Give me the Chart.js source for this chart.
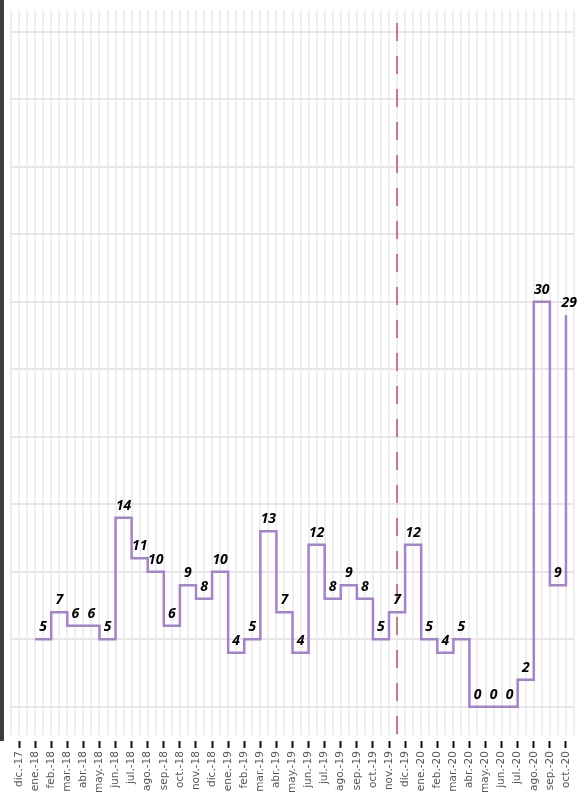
<!DOCTYPE html>
<html>
<head>
<meta charset="utf-8">
<script src="https://cdn.jsdelivr.net/npm/chart.js@4/dist/chart.umd.min.js"></script>
<style>
  body { margin: 0; background: #fff; }
  #wrap { position: relative; width: 582px; height: 800px; }
  #bar { position: absolute; left: 0; top: 0; width: 4px; height: 741px; background: #3d3d3d; }
  canvas { position: absolute; left: 0; top: 0; }
</style>
</head>
<body>
<div id="wrap">
  <canvas id="chart" width="582" height="800"></canvas>
  <div id="bar"></div>
</div>
<script>
const months = ['dic.-17','ene.-18','feb.-18','mar.-18','abr.-18','may.-18','jun.-18','jul.-18','ago.-18','sep.-18','oct.-18','nov.-18',
  'dic.-18','ene.-19','feb.-19','mar.-19','abr.-19','may.-19','jun.-19','jul.-19','ago.-19','sep.-19','oct.-19','nov.-19',
  'dic.-19','ene.-20','feb.-20','mar.-20','abr.-20','may.-20','jun.-20','jul.-20','ago.-20','sep.-20','oct.-20'];

const counts = [null, 5, 7, 6, 6, 5, 14, 11, 10, 6, 9, 8,
  10, 4, 5, 13, 7, 4, 12, 8, 9, 8, 5, 7,
  12, 5, 4, 5, 0, 0, 0, 2, 30, 9, 29];

const yTicks = [0, 5, 10, 15, 20, 25, 30, 35, 40, 45, 50];

// reference line sits between these two months
const markerBetween = ['nov.-19', 'dic.-19'];

const valueLabels = {
  id: 'valueLabels',
  afterDatasetsDraw(chart) {
    const ctx = chart.ctx;
    const x = chart.scales.x;
    const y = chart.scales.y;
    ctx.save();
    ctx.font = 'italic bold 14px "Open Sans"';
    ctx.fillStyle = '#000';
    ctx.textAlign = 'center';
    ctx.textBaseline = 'middle';
    counts.forEach((v, i) => {
      if (v === null) return;
      const px = x.getPixelForValue(i);
      const step = x.getPixelForValue(1) - x.getPixelForValue(0);
      let cx = px + step / 2;
      const w = ctx.measureText(String(v)).width;
      cx = Math.min(cx, chart.width - w / 2 - 5);
      ctx.fillText(String(v), cx, y.getPixelForValue(v) - 12);
    });
    ctx.restore();
  }
};

const markerLine = {
  id: 'markerLine',
  beforeDatasetsDraw(chart) {
    const ctx = chart.ctx;
    const x = chart.scales.x;
    const area = chart.chartArea;
    const a = x.getPixelForValue(months.indexOf(markerBetween[0]));
    const b = x.getPixelForValue(months.indexOf(markerBetween[1]));
    const mx = (a + b) / 2;
    ctx.save();
    ctx.strokeStyle = '#c8505f';
    ctx.lineWidth = 1.5;
    ctx.setLineDash([18, 15]);
    ctx.lineDashOffset = 20;
    ctx.beginPath();
    ctx.moveTo(mx, area.top);
    ctx.lineTo(mx, area.bottom + 3);
    ctx.stroke();
    ctx.restore();
  }
};

new Chart(document.getElementById('chart'), {
  type: 'line',
  data: {
    labels: months,
    datasets: [{
      data: counts,
      xAxisID: 'x',
      borderColor: '#a482cc',
      borderWidth: 2.5,
      pointRadius: 0,
      stepped: true,
      fill: false,
      spanGaps: false
    }]
  },
  options: {
    responsive: false,
    animation: false,
    devicePixelRatio: 1,
    layout: { padding: { left: 11, right: 8, top: 10, bottom: 4 } },
    plugins: { legend: { display: false }, tooltip: { enabled: false } },
    scales: {
      x: {
        type: 'category',
        offset: true,
        border: { display: false },
        grid: {
          offset: false,
          drawOnChartArea: false,
          drawTicks: true,
          tickColor: '#111',
          tickWidth: 2,
          tickLength: 13,
          tickBorderDash: [0, 6, 7, 40]
        },
        ticks: {
          autoSkip: false,
          maxRotation: 90,
          minRotation: 90,
          padding: 3,
          color: '#555',
          font: { family: 'DejaVu Sans', size: 10.5 }
        }
      },
      xg: {
        type: 'linear',
        position: 'top',
        min: -0.5,
        max: months.length - 0.5,
        afterBuildTicks(scale) {
          const t = [];
          for (let v = -0.5; v <= months.length - 0.5; v += 0.5) t.push({ value: v });
          scale.ticks = t;
        },
        border: { display: false },
        grid: { color: '#eeeeee', lineWidth: 2, drawTicks: false },
        ticks: { display: false, padding: 0 }
      },
      y: {
        min: -2.1,
        max: 51.6,
        afterBuildTicks(scale) {
          scale.ticks = yTicks.map(v => ({ value: v }));
        },
        border: { display: false },
        grid: { color: '#e6e6e6', lineWidth: 2, drawTicks: false },
        ticks: { display: false, padding: 0 }
      }
    }
  },
  plugins: [markerLine, valueLabels]
});
</script>
</body>
</html>
